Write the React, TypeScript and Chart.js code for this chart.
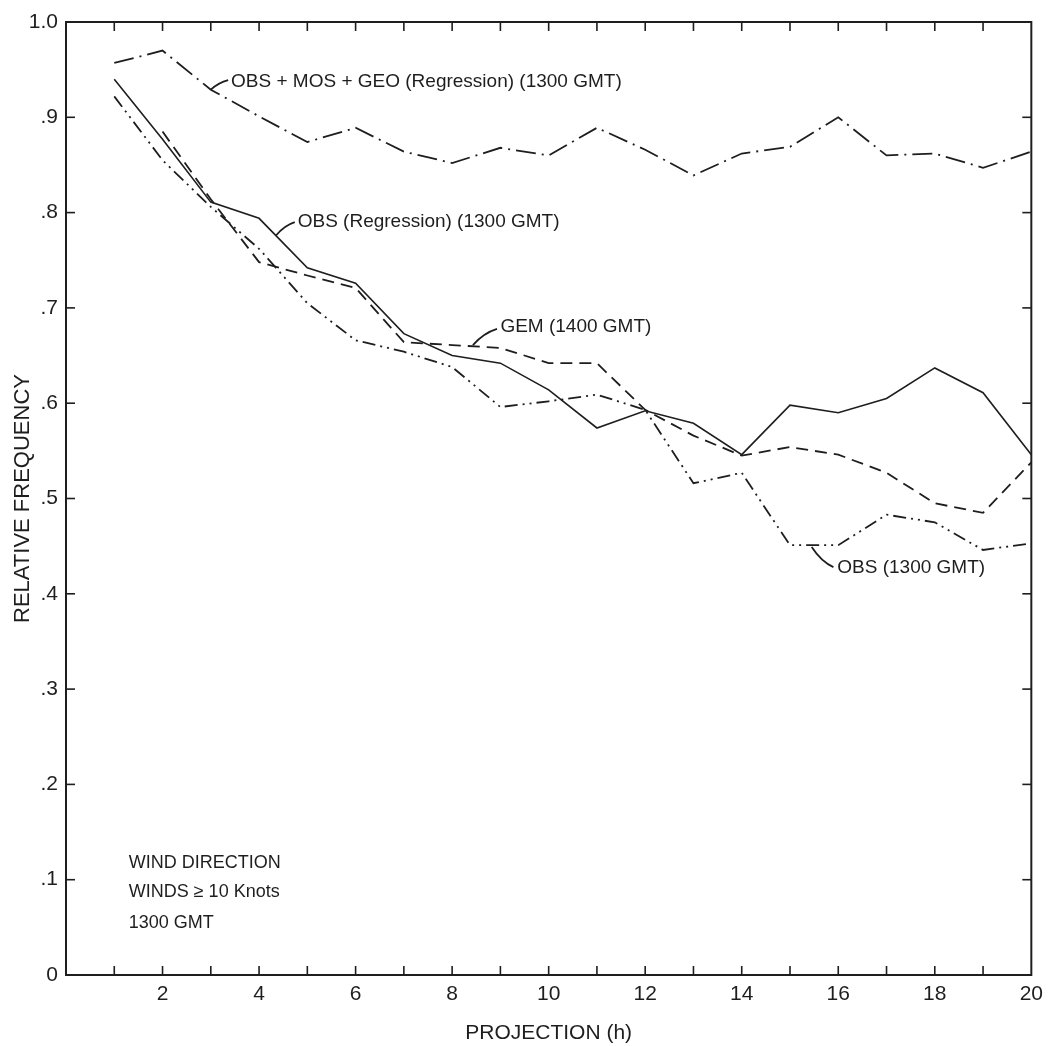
import React, { useEffect, useRef } from 'react';
import { Chart, registerables } from 'chart.js';

Chart.register(...registerables);

// ---- data ----
const hours = [1, 2, 3, 4, 5, 6, 7, 8, 9, 10, 11, 12, 13, 14, 15, 16, 17, 18, 19, 20];
const obsMosGeoRegression = [0.957, 0.970, 0.929, 0.901, 0.874, 0.889, 0.864, 0.852, 0.868, 0.860, 0.889, 0.866, 0.839, 0.862, 0.869, 0.900, 0.860, 0.862, 0.847, 0.864];
const obsRegression = [0.940, 0.877, 0.811, 0.794, 0.742, 0.726, 0.673, 0.650, 0.642, 0.614, 0.574, 0.592, 0.579, 0.546, 0.598, 0.590, 0.605, 0.637, 0.611, 0.546];
const gem1400 = [null, 0.885, 0.814, 0.748, 0.734, 0.721, 0.664, 0.661, 0.658, 0.642, 0.642, 0.593, 0.566, 0.545, 0.554, 0.546, 0.527, 0.495, 0.485, 0.538];
const obs1300 = [0.922, 0.855, 0.806, 0.762, 0.705, 0.666, 0.654, 0.638, 0.596, 0.602, 0.609, 0.593, 0.516, 0.527, 0.451, 0.451, 0.483, 0.475, 0.446, 0.453];

const seriesNames = [
  'OBS + MOS + GEO (Regression) (1300 GMT)',
  'OBS (Regression) (1300 GMT)',
  'GEM (1400 GMT)',
  'OBS (1300 GMT)',
];

const xTickValues = [0, 1, 2, 3, 4, 5, 6, 7, 8, 9, 10, 11, 12, 13, 14, 15, 16, 17, 18, 19, 20];
const xTickLabels = ['', '', '2', '', '4', '', '6', '', '8', '', '10', '', '12', '', '14', '', '16', '', '18', '', '20'];
const yTickValues = [0, 0.1, 0.2, 0.3, 0.4, 0.5, 0.6, 0.7, 0.8, 0.9, 1.0];
const yTickLabels = ['0', '.1', '.2', '.3', '.4', '.5', '.6', '.7', '.8', '.9', '1.0'];

const xTitle = 'PROJECTION (h)';
const yTitle = 'RELATIVE FREQUENCY';
const noteLines = ['WIND DIRECTION', 'WINDS \u2265 10 Knots', '1300 GMT'];
const noteX = 1.3;
const noteY = [0.118, 0.087, 0.055];

// series labels placed in data coordinates, with pointer strokes
const labelTexts = seriesNames;
const labelX = [3.42, 4.8, 9.0, 15.98];
const labelY = [0.937, 0.79, 0.68, 0.427];
const pointerFrom = [[3.0, 0.929], [4.35, 0.776], [8.43, 0.661], [15.45, 0.449]];
const pointerTo = [[3.36, 0.939], [4.74, 0.79], [8.93, 0.678], [15.9, 0.428]];

// ---- styles ----
const FONT = "'Liberation Sans', Arial, Helvetica, sans-serif";
const INK = '#1e1e1e';

const framePlugin = {
  id: 'frameAndNotes',
  afterDraw(chart: any) {
    const { ctx, chartArea: a, scales } = chart;
    const x = scales.x;
    const y = scales.y;
    ctx.save();
    ctx.strokeStyle = INK;
    ctx.fillStyle = INK;
    ctx.lineCap = 'butt';
    // frame
    ctx.lineWidth = 2;
    ctx.strokeRect(a.left, a.top, a.right - a.left, a.bottom - a.top);
    // inward ticks
    ctx.lineWidth = 1.6;
    const tl = 9;
    const seg = (x1: number, y1: number, x2: number, y2: number) => {
      ctx.beginPath();
      ctx.moveTo(x1, y1);
      ctx.lineTo(x2, y2);
      ctx.stroke();
    };
    xTickValues.forEach((v) => {
      if (v <= 0 || v >= 20) return;
      const px = x.getPixelForValue(v);
      seg(px, a.bottom, px, a.bottom - tl);
      seg(px, a.top, px, a.top + tl);
    });
    yTickValues.forEach((v) => {
      if (v <= 0 || v >= 1) return;
      const py = y.getPixelForValue(v);
      seg(a.left, py, a.left + tl, py);
      seg(a.right, py, a.right - tl, py);
    });
    // axis titles
    ctx.font = `21px ${FONT}`;
    ctx.textAlign = 'center';
    ctx.textBaseline = 'middle';
    ctx.fillText(xTitle, (a.left + a.right) / 2, 1033);
    ctx.save();
    ctx.font = `22px ${FONT}`;
    ctx.translate(23, (a.top + a.bottom) / 2);
    ctx.rotate(-Math.PI / 2);
    ctx.fillText(yTitle, 0, 0);
    ctx.restore();
    // series labels with pointers
    ctx.font = `19px ${FONT}`;
    ctx.textAlign = 'left';
    ctx.lineWidth = 1.8;
    labelTexts.forEach((t, i) => {
      const fx = x.getPixelForValue(pointerFrom[i][0]);
      const fy = y.getPixelForValue(pointerFrom[i][1]);
      const tx = x.getPixelForValue(pointerTo[i][0]);
      const ty = y.getPixelForValue(pointerTo[i][1]);
      ctx.beginPath();
      ctx.moveTo(fx, fy);
      ctx.quadraticCurveTo(fx + (tx - fx) * 0.45, fy + (ty - fy) * 0.75, tx, ty);
      ctx.stroke();
      ctx.fillText(t, x.getPixelForValue(labelX[i]), y.getPixelForValue(labelY[i]));
    });
    // note
    ctx.font = `18px ${FONT}`;
    noteLines.forEach((t, i) => {
      ctx.fillText(t, x.getPixelForValue(noteX), y.getPixelForValue(noteY[i]));
    });
    ctx.restore();
  },
};

export default function App() {
  const ref = useRef<HTMLCanvasElement>(null);
  useEffect(() => {
    document.body.style.margin = '0';
    const canvas = ref.current;
    if (!canvas) return;
    const line = (data: (number | null)[], dash: number[], width: number) => ({
      data: hours.map((h, i) => ({ x: h, y: data[i] })),
      borderColor: INK,
      borderWidth: width,
      borderDash: dash,
      pointRadius: 0,
      tension: 0,
      fill: false,
      spanGaps: false,
    });
    const chart = new Chart(canvas, {
      type: 'line',
      data: {
        datasets: [
          { label: seriesNames[0], ...line(obsMosGeoRegression, [20, 6, 2, 6], 1.8) },
          { label: seriesNames[1], ...line(obsRegression, [], 1.6) },
          { label: seriesNames[2], ...line(gem1400, [12, 7], 1.8) },
          { label: seriesNames[3], ...line(obs1300, [13, 5, 2, 5, 2, 5], 1.8) },
        ],
      },
      options: {
        animation: false,
        responsive: false,
        devicePixelRatio: 1,
        layout: { padding: { left: 0, right: 17, top: 22, bottom: 0 } },
        plugins: { legend: { display: false }, tooltip: { enabled: false }, title: { display: false } },
        scales: {
          x: {
            type: 'linear',
            min: 0,
            max: 20,
            afterFit: (s: any) => { s.height = 71; },
            afterBuildTicks: (s: any) => { s.ticks = xTickValues.map((v) => ({ value: v })); },
            grid: { display: false, drawTicks: false },
            border: { display: false },
            ticks: {
              padding: 7,
              autoSkip: false,
              maxRotation: 0,
              color: INK,
              font: { family: FONT, size: 21 },
              callback: (v: any) => xTickLabels[xTickValues.indexOf(Math.round(Number(v)))] ?? '',
            },
          },
          y: {
            type: 'linear',
            min: 0,
            max: 1,
            afterFit: (s: any) => { s.width = 66; },
            afterBuildTicks: (s: any) => { s.ticks = yTickValues.map((v) => ({ value: v })); },
            grid: { display: false, drawTicks: false },
            border: { display: false },
            ticks: {
              padding: 8,
              autoSkip: false,
              color: INK,
              font: { family: FONT, size: 21 },
              callback: (v: any) => yTickLabels[Math.round(Number(v) * 10)] ?? '',
            },
          },
        },
      },
      plugins: [framePlugin],
    } as any);
    return () => chart.destroy();
  }, []);
  return <canvas ref={ref} width={1050} height={1046} style={{ display: 'block' }} />;
}
